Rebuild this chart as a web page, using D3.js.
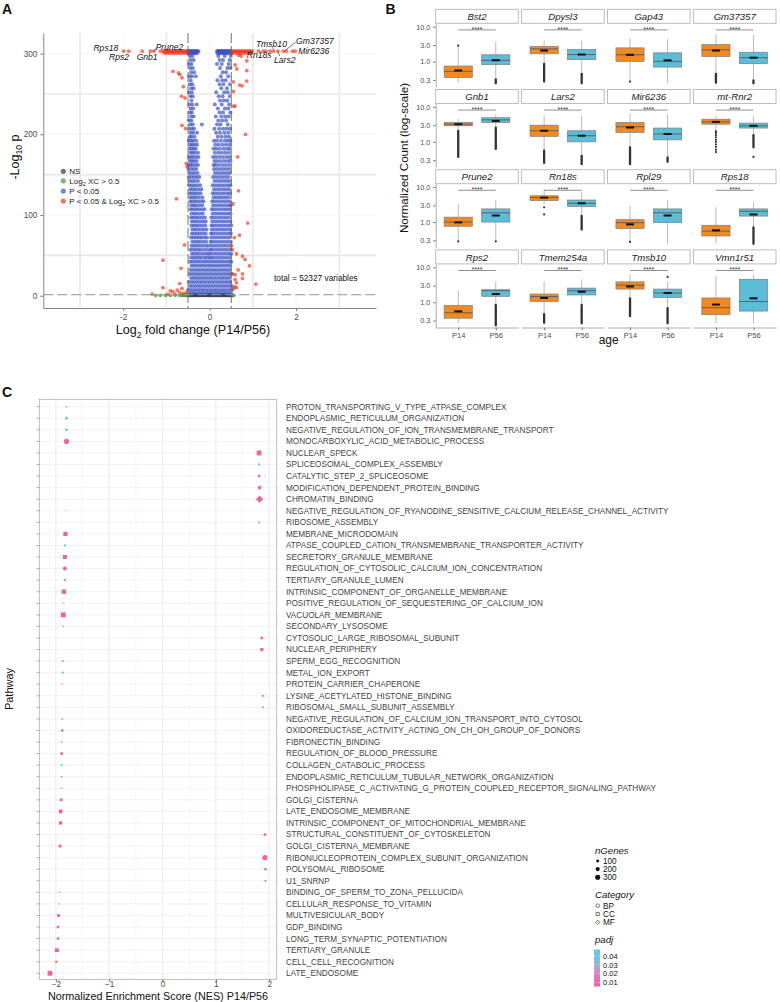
<!DOCTYPE html>
<html><head><meta charset="utf-8">
<script src="https://cdn.jsdelivr.net/npm/d3@7"></script>
<style>body{margin:0;background:#fff} svg{display:block} text{font-family:"Liberation Sans",Arial,sans-serif}</style>
</head><body><svg id="c" width="780" height="1002"></svg>
<script>
// ================= DATA =================
// ---- Panel A: volcano (x = log2FC in hundredths, grouped by -log10 p rows) ----
const volcanoNS = [[1.0,"-53 -49 -45 -41 -37 -33 -29 -25 -21 -17 -13 -9 -5 -1 3 7 11 15 19 23 27 31 35 39 43 47 51"],
 [0.4,"-55 -51 -47 -43 -39 -35 -31 -27 -23 -19 -15 -11 -7 -3 1 5 9 13 17 21 25 29 33 37 41 45 49 53"]];
const volcanoGreen = [[0.5,"-125 -114 -102 -91 -80 -70 -64 -60 -57 -54 -51 52 56"],[0.9,"-62 -58 -55"]];
const volcanoBlueCap = [[303,"-50 -48 -46 -44 -42 -40 -38 -36 -34 -32 -30 -28 -26 17 19 21 23 25 27 29 31 33 35 37 39 41 43 45 47 49"],
 [300.5,"-49 -45 -41 -37 -33 -29 18 22 26 30 34 38 42 46 50"]];
const volcanoBlueUpper = [
 [297,"-46 -40 20 35 49"],[292,"-44 -37 23 31 46"],[287,"-48 -42 17 28 44"],
 [282,"-45 -39 24 41 48"],[277,"-43 -36 30 38"],[272,"-47 -41 -32 26 43"],
 [267,"-44 18 29 37"],[262,"-46 -40 23 32 47"],[257,"-43 -37 27 40"],
 [252,"-48 -41 15 34 42"],[247,"-45 -39 21 30 47"],[242,"-42 24 33 41"],
 [237,"-47 -40 -30 12 28 45"],[232,"-44 -38 19 35 43"],[227,"-46 -41 23 31 48"],
 [222,"-43 -37 14 27 36 44"],[217,"-48 -42 20 29 38"],[212,"-45 -39 -18 17 25 42"],
 [207,"-47 -41 -36 11 22 31 39 47"],[202,"-44 -38 -29 15 24 34 43"],[197,"-46 -42 -35 19 28 37 45"],
 [192,"-48 -43 -38 -31 10 17 26 35 42 48"],[187,"-45 -40 -35 -29 13 21 30 38 46"],
 [182,"-47 -42 -37 -32 9 16 24 33 41 47"],[177,"-44 -39 -34 -27 12 20 28 36 44"],
 [172,"-48 -43 -38 -32 -26 8 15 23 31 39 46"],[167,"-46 -41 -36 -30 11 18 26 34 42 48"],
 [162,"-49 -44 -39 -33 -27 9 14 21 29 37 45"]];
const volcanoBlueDense = [
 [157,"-49 -43 -37 -31 10 17 24 31 38 45"],[152,"-47 -41 -35 -28 12 19 26 33 40 47"],
 [147,"-48 -42 -36 -30 -24 8 15 22 29 36 43"],[142,"-46 -40 -34 -27 11 18 25 32 39 46"],
 [137,"-47 -41 -35 -29 -22 7 14 21 28 35 42 48"],[132,"-45 -39 -33 -26 -19 10 17 24 31 38 45"],
 [127,"-46 -40 -34 -28 -21 7 13 20 27 34 41 47"],[122,"-44 -38 -32 -25 -17 9 16 23 30 37 44"],
 [117,"-45 -39 -33 -27 -20 -14 6 12 19 26 33 40 47"],[112,"-43 -37 -31 -24 -17 8 15 22 29 36 43 49"],
 [107,"-44 -38 -32 -26 -19 -12 5 11 18 25 32 39 46"],[102,"-42 -36 -30 -23 -16 7 14 21 28 35 42 48"],
 [97,"-43 -37 -31 -25 -18 -11 4 10 17 24 31 38 45"],[92,"-41 -35 -29 -22 -15 -9 6 13 20 27 34 41 48"],
 [87,"-42 -36 -30 -24 -17 -10 4 9 16 23 30 37 44 50"],[82,"-40 -34 -28 -21 -14 -7 5 12 19 26 33 40 47"],
 [77,"-41 -35 -29 -23 -16 -9 3 8 15 22 29 36 43 49"],[72,"-43 -37 -31 -25 -19 -12 -6 4 11 18 25 32 39 46"],
 [67,"-40 -34 -28 -22 -15 -8 2 7 14 21 28 35 42 49"],[62,"-42 -36 -30 -24 -17 -10 -4 3 10 17 24 31 38 45"],
 [57,"-44 -38 -32 -26 -20 -13 -6 1 6 13 20 27 34 41 48"],[52,"-41 -35 -29 -23 -16 -9 -3 2 9 16 23 30 37 44 50"],
 [47,"-43 -37 -31 -25 -19 -12 -6 0 5 11 18 25 32 39 46"],[42,"-45 -39 -33 -27 -21 -15 -9 -3 3 9 15 21 27 33 39 45 50"],
 [37,"-42 -36 -30 -24 -18 -12 -6 0 6 12 18 24 30 36 42 48"],[32,"-44 -38 -32 -26 -20 -14 -8 -2 4 10 16 22 28 34 40 46"],
 [27,"-46 -40 -34 -28 -22 -16 -10 -4 2 8 14 20 26 32 38 44 50"],[22,"-43 -37 -31 -25 -19 -13 -7 -1 5 11 17 23 29 35 41 47"],
 [17,"-48 -42 -36 -30 -24 -18 -12 -6 0 6 12 18 24 30 36 42 48"],[12,"-45 -39 -33 -27 -21 -15 -9 -3 3 9 15 21 27 33 39 45 51"],
 [7,"-50 -44 -38 -32 -26 -20 -14 -8 -2 4 10 16 22 28 34 40 46 52"],[3,"-47 -41 -35 -29 -23 -17 -11 -5 1 7 13 19 25 31 37 43 49"]];
const volcanoRedCap = [
 [303,"-199 -187 -156 -137 -129 -114 -107 -104 -101 -98 -95 -92 -89 -86 -83 -80 -77 -74 -71 -68 -65 -62 -59 -56 -53 -51 51 54 57 60 63 66 69 72 75 78 81 84 87 90 93 96 99 113 124 130 140 148 158 171 178 192 198"],
 [300.5,"-105 -99 -93 -87 -81 -75 -69 -63 -57 -52 53 59 65 71 77 83 89 95"]];
// scattered significant points [log2FC, -log10 p]
const volcanoRed = [[-0.85,278],[-0.72,276],[-0.69,274],[-0.64,270],[-0.61,259],[-0.65,247],[-0.57,245],[-0.64,211],[-0.56,207],
 [-0.54,164],[-0.52,160],[-0.77,120],[-0.58,63],[-1.08,44],[-0.66,34],[-0.69,15],[-1.08,10],[-0.91,6],[-0.85,5],[-0.75,7],
 [-0.64,9],[-0.69,4],[-1.33,2],[-0.97,1.8],[-0.80,2],[-0.53,4.5],[-0.60,3],
 [0.59,286],[0.63,281],[0.86,279],[0.67,298],[0.73,297],[0.86,291],[0.75,260],[0.86,266],[0.55,265],[0.69,261],[0.55,253],
 [0.55,235],[0.59,235],[0.83,200],[0.65,172],[0.67,130],[0.54,114],[0.88,90],[0.69,75],[0.57,72],[0.51,62],[0.53,57],
 [0.62,52],[0.76,49],[0.82,45],[0.92,37],[0.66,32],[0.53,27],[0.76,27],[0.59,26],[0.76,21.5],[0.59,20],[1.07,14.5],
 [0.62,16],[0.55,9],[0.62,10],[0.58,11]];
const volcanoTicksX = [-2,0,2];
const volcanoTicksY = [0,100,200,300];

// ---- Panel B: boxplots ----
const genes = ["Bst2","Dpysl3","Gap43","Gm37357","Gnb1","Lars2","Mir6236","mt-Rnr2","Prune2","Rn18s","Rpl29","Rps18","Rps2","Tmem254a","Tmsb10","Vmn1r51"];
const ages = ["P14","P56"];
// [lower whisker, q1, median, q3, upper whisker, mean]
const statsP14 = [[0.25,0.354,0.53,0.75,2.88,0.56],[0.88,1.68,2.32,2.75,4.0,2.08],[0.28,1.02,1.57,2.48,4.7,1.57],[0.46,1.41,2.18,3.07,6.1,2.08],
 [2.08,2.88,3.2,3.57,4.6,3.2],[0.57,1.44,2.08,3.0,5.8,2.08],[0.7,1.87,2.7,3.57,6.5,2.58],[2.08,3.2,3.73,4.45,5.5,3.73],
 [0.30,0.76,1.0,1.38,3.3,0.98],[3.3,4.1,5.06,5.65,8.7,5.0],[0.27,0.65,0.96,1.17,2.95,0.86],[0.25,0.40,0.55,0.81,2.65,0.58],
 [0.25,0.35,0.50,0.81,2.14,0.55],[0.47,1.05,1.45,1.72,3.9,1.33],[1.3,2.38,3.09,3.83,6.3,2.83],[0.25,0.44,0.70,1.33,5.65,0.86]];
const statsP56 = [[0.32,0.82,1.09,1.57,3.7,1.1],[0.46,1.14,1.6,2.22,4.0,1.6],[0.24,0.70,1.02,1.79,4.4,1.09],[0.30,0.88,1.3,1.86,5.8,1.3],
 [2.58,3.57,4.25,4.9,6.1,3.98],[0.41,1.0,1.5,2.08,5.5,1.5],[0.37,1.14,1.68,2.48,6.1,1.68],[1.6,2.48,2.88,3.43,5.3,2.88],
 [0.30,1.0,1.84,2.38,4.3,1.54],[1.54,2.77,3.44,4.27,7.5,3.44],[0.24,0.96,1.84,2.38,4.1,1.54],[0.72,1.48,2.04,2.38,3.66,1.65],
 [0.86,1.48,2.14,2.28,3.9,1.72],[0.86,1.62,2.14,2.54,4.55,2.0],[0.70,1.38,1.84,2.38,3.9,1.84],[0.25,0.56,1.05,4.55,6.0,1.3]];
// dense runs of outliers [low, high]
const outlierRunsP14 = [null,[0.27,0.86],null,[0.25,0.45],[0.37,2.05],[0.25,0.56],[0.23,0.69],null,null,null,null,null,null,[0.26,0.46],[0.40,1.28],null];
const outlierRunsP56 = [[0.24,0.31],[0.24,0.45],null,[0.24,0.29],[0.63,2.55],[0.23,0.40],[0.27,0.36],[0.70,1.55],null,[0.61,1.5],null,[0.24,0.70],[0.22,0.84],[0.25,0.84],[0.25,0.68],null];
const outlierPtsP14 = [[2.88],[],[0.27],[],[],[],[],[0.51,0.6,0.72,0.85,1.0,1.15,1.35,1.55,1.8,2.0],[0.28],[2.65,1.65],[0.27],[],[],[],[],[]];
const outlierPtsP56 = [[],[],[],[],[],[],[],[0.37],[0.28],[],[],[],[],[],[5.3],[]];
const boxTicks = [0.3,1,3,10];
const sigLevel = 8.1;

// ---- Panel C: GSEA dot plot ----
const pathways = ["PROTON_TRANSPORTING_V_TYPE_ATPASE_COMPLEX","ENDOPLASMIC_RETICULUM_ORGANIZATION","NEGATIVE_REGULATION_OF_ION_TRANSMEMBRANE_TRANSPORT",
 "MONOCARBOXYLIC_ACID_METABOLIC_PROCESS","NUCLEAR_SPECK","SPLICEOSOMAL_COMPLEX_ASSEMBLY","CATALYTIC_STEP_2_SPLICEOSOME",
 "MODIFICATION_DEPENDENT_PROTEIN_BINDING","CHROMATIN_BINDING","NEGATIVE_REGULATION_OF_RYANODINE_SENSITIVE_CALCIUM_RELEASE_CHANNEL_ACTIVITY",
 "RIBOSOME_ASSEMBLY","MEMBRANE_MICRODOMAIN","ATPASE_COUPLED_CATION_TRANSMEMBRANE_TRANSPORTER_ACTIVITY","SECRETORY_GRANULE_MEMBRANE",
 "REGULATION_OF_CYTOSOLIC_CALCIUM_ION_CONCENTRATION","TERTIARY_GRANULE_LUMEN","INTRINSIC_COMPONENT_OF_ORGANELLE_MEMBRANE",
 "POSITIVE_REGULATION_OF_SEQUESTERING_OF_CALCIUM_ION","VACUOLAR_MEMBRANE","SECONDARY_LYSOSOME","CYTOSOLIC_LARGE_RIBOSOMAL_SUBUNIT",
 "NUCLEAR_PERIPHERY","SPERM_EGG_RECOGNITION","METAL_ION_EXPORT","PROTEIN_CARRIER_CHAPERONE","LYSINE_ACETYLATED_HISTONE_BINDING",
 "RIBOSOMAL_SMALL_SUBUNIT_ASSEMBLY","NEGATIVE_REGULATION_OF_CALCIUM_ION_TRANSPORT_INTO_CYTOSOL","OXIDOREDUCTASE_ACTIVITY_ACTING_ON_CH_OH_GROUP_OF_DONORS",
 "FIBRONECTIN_BINDING","REGULATION_OF_BLOOD_PRESSURE","COLLAGEN_CATABOLIC_PROCESS","ENDOPLASMIC_RETICULUM_TUBULAR_NETWORK_ORGANIZATION",
 "PHOSPHOLIPASE_C_ACTIVATING_G_PROTEIN_COUPLED_RECEPTOR_SIGNALING_PATHWAY","GOLGI_CISTERNA","LATE_ENDOSOME_MEMBRANE",
 "INTRINSIC_COMPONENT_OF_MITOCHONDRIAL_MEMBRANE","STRUCTURAL_CONSTITUENT_OF_CYTOSKELETON","GOLGI_CISTERNA_MEMBRANE",
 "RIBONUCLEOPROTEIN_COMPLEX_SUBUNIT_ORGANIZATION","POLYSOMAL_RIBOSOME","U1_SNRNP","BINDING_OF_SPERM_TO_ZONA_PELLUCIDA",
 "CELLULAR_RESPONSE_TO_VITAMIN","MULTIVESICULAR_BODY","GDP_BINDING","LONG_TERM_SYNAPTIC_POTENTIATION","TERTIARY_GRANULE",
 "CELL_CELL_RECOGNITION","LATE_ENDOSOME"];
const nes = [-1.80,-1.80,-1.80,-1.80,1.81,1.81,1.81,1.82,1.82,-1.81,1.81,-1.82,-1.83,-1.83,-1.83,-1.83,-1.85,-1.85,-1.86,-1.86,
 1.86,1.86,-1.87,-1.87,-1.88,1.88,1.88,-1.88,-1.88,-1.89,-1.89,-1.89,-1.89,-1.89,-1.90,-1.91,-1.91,1.92,-1.92,1.92,1.93,1.93,
 -1.93,-1.94,-1.95,-1.96,-1.96,-1.98,-1.99,-2.11];
const category = ["CC","BP","BP","BP","CC","BP","CC","MF","MF","BP","BP","CC","MF","CC","BP","CC","CC","BP","CC","CC",
 "CC","CC","BP","BP","MF","MF","BP","BP","MF","MF","BP","BP","BP","BP","CC","CC","CC","MF","CC","BP","CC","CC",
 "BP","BP","CC","MF","BP","CC","BP","CC"];
const nGenes = [40,90,90,300,330,60,90,170,420,15,60,250,70,230,180,70,270,20,340,25,
 100,140,60,60,25,60,60,30,100,30,110,50,40,35,120,200,150,110,110,320,80,50,
 30,30,110,100,90,200,80,320];
const padj = [0.025,0.04,0.04,0.008,0.008,0.04,0.012,0.012,0.008,0.04,0.028,0.008,0.04,0.008,0.01,0.028,0.008,0.015,0.008,0.015,
 0.012,0.01,0.04,0.04,0.02,0.014,0.04,0.015,0.012,0.038,0.012,0.04,0.04,0.04,0.012,0.008,0.01,0.013,0.01,0.008,0.012,0.015,
 0.03,0.03,0.01,0.012,0.012,0.008,0.012,0.008];
const nesTicks = [-2,-1,0,1,2];
const sizeLegend = [100,200,300];
const categories = ["BP","CC","MF"];
const padjTicks = [0.04,0.03,0.02,0.01];

// ================= DRAW =================
const svg = d3.select("#c");
const AX = "#4d4d4d";
const FF = "Liberation Sans, Arial, sans-serif";
const rowsToPts = rows => rows.flatMap(([y,s]) => s.trim().split(/\s+/).map(v => ({x:+v/100, y})));

// ---------- Panel A ----------
const A = svg.append("g");
const xA = d3.scaleLinear().domain([-3.85,3.85]).range([43.3,376]);
const yA = d3.scaleLinear().domain([-15.2,325.5]).range([308,33]);
d3.range(-3,4).forEach(v => {
  const odd = Math.abs(v)%2===1;
  A.append("line").attr("x1",xA(v)).attr("x2",xA(v)).attr("y1",33).attr("y2",308)
   .attr("stroke",odd?"#e8e8e8":"#f0f0f0").attr("stroke-width",odd?1.6:0.7);
});
d3.range(0,301,50).forEach(v => {
  const odd = v%100===50;
  A.append("line").attr("x1",43.3).attr("x2",376).attr("y1",yA(v)).attr("y2",yA(v))
   .attr("stroke",odd?"#e8e8e8":"#f0f0f0").attr("stroke-width",odd?1.6:0.7);
});
function dotsA(pts, fill, op, r){
  A.append("g").selectAll("circle").data(pts).join("circle")
   .attr("cx",d=>xA(d.x)).attr("cy",d=>yA(d.y)).attr("r",r).attr("fill",fill).attr("fill-opacity",op);
}
dotsA(rowsToPts(volcanoNS), "#3a3a3a", 0.7, 1.9);
dotsA(rowsToPts(volcanoGreen), "#3e9e3e", 0.75, 1.9);
dotsA(rowsToPts(volcanoBlueUpper).concat(rowsToPts(volcanoBlueDense), rowsToPts(volcanoBlueCap)), "#3a52c2", 0.7, 2.0);
dotsA(rowsToPts(volcanoRedCap).concat(volcanoRed.map(([x,y])=>({x,y}))), "#ee3a1e", 0.68, 1.9);
[-0.5,0.5].forEach(v => A.append("line").attr("x1",xA(v)).attr("x2",xA(v)).attr("y1",33).attr("y2",308)
  .attr("stroke","#606060").attr("stroke-width",0.9).attr("stroke-dasharray","10,3"));
A.append("line").attr("x1",43.3).attr("x2",376).attr("y1",yA(-Math.log10(0.05))).attr("y2",yA(-Math.log10(0.05)))
  .attr("stroke","#9a9a9a").attr("stroke-width",1).attr("stroke-dasharray","10,4");
const axA = A.append("g").attr("transform","translate(43.3,0)").call(d3.axisLeft(yA).tickValues(volcanoTicksY).tickSize(3).tickSizeOuter(0));
const bxA = A.append("g").attr("transform","translate(0,308)").call(d3.axisBottom(xA).tickValues(volcanoTicksX).tickSize(3).tickSizeOuter(0).tickFormat(d=>d));
[axA,bxA].forEach(g => { g.select(".domain").attr("stroke","#7a7a7a").attr("stroke-width",0.9);
  g.selectAll(".tick line").attr("stroke","#7a7a7a");
  g.selectAll("text").attr("font-size",8.2).attr("fill",AX).attr("font-family",FF); });
const geneLabels = [["Rps18",-2.69,302.6],["Rps2",-2.33,291.5],["Gnb1",-1.69,291.5],["Prune2",-1.25,304],["Tmsb10",1.07,307.6],
  ["Gm37357",2.0,311.5],["Rn18s",0.86,294.5],["Lars2",1.49,288.5],["Mir6236",2.05,299.5]];
A.append("g").selectAll("text").data(geneLabels).join("text").attr("x",d=>xA(d[1])).attr("y",d=>yA(d[2]))
  .attr("font-size",8.6).attr("font-style","italic").attr("fill","#111").text(d=>d[0]);
const leaders = [[[-1.30,303],[-1.23,307]],[[1.75,304],[1.99,314]],[[1.58,302],[1.62,297]],[[1.48,305],[1.45,308]]];
leaders.forEach(([a,b]) => A.append("line").attr("x1",xA(a[0])).attr("y1",yA(a[1])).attr("x2",xA(b[0])).attr("y2",yA(b[1]))
  .attr("stroke","#222").attr("stroke-width",0.6));
const legA = [["NS","#3a3a3a"],["Log2 XC > 0.5","#3e9e3e"],["P < 0.05","#3a52c2"],["P < 0.05 & Log2 XC > 0.5","#ee3a1e"]];
const legY = [171.3,180.8,191.1,201];
legA.forEach((d,i) => {
  A.append("circle").attr("cx",63.3).attr("cy",legY[i]).attr("r",2.6).attr("fill",d[1]).attr("fill-opacity",0.7);
  const t = A.append("text").attr("x",69.3).attr("y",legY[i]+2.9).attr("font-size",8).attr("fill","#222");
  const parts = d[0].split("Log2");
  if (parts.length===1) t.text(d[0]);
  else { t.append("tspan").text(parts[0]+"Log"); t.append("tspan").attr("font-size",5.6).attr("dy",2).text("2");
         t.append("tspan").attr("dy",-2).text(parts[1]); }
});
A.append("text").attr("x",274).attr("y",280.6).attr("font-size",8.3).attr("fill","#111").text("total = 52327 variables");
const xtA = A.append("text").attr("x",193).attr("y",334).attr("text-anchor","middle").attr("font-size",12.6).attr("fill","#111");
xtA.append("tspan").text("Log"); xtA.append("tspan").attr("font-size",8.5).attr("dy",3.5).text("2");
xtA.append("tspan").attr("dy",-3.5).text(" fold change (P14/P56)");
const ytA = A.append("text").attr("transform","translate(18.5,157) rotate(-90)").attr("text-anchor","middle").attr("font-size",12.6).attr("fill","#111");
ytA.append("tspan").text("-Log"); ytA.append("tspan").attr("font-size",8.5).attr("dy",3.5).text("10");
ytA.append("tspan").attr("dy",-3.5).text(" p");

// ---------- Panel B ----------
const B = svg.append("g");
const colX = c => 435.7 + c*85.9, panelW = 82.6;
const rowTop = r => 9.3 + r*80.2, stripH = 14, panelH = 63.6;
const fillAge = {P14:"#f28a22", P56:"#5bbdd8"};
genes.forEach((g,i) => {
  const r = Math.floor(i/4), c = i%4;
  const x0 = colX(c), top = rowTop(r)+stripH, bot = top+panelH;
  const y = d3.scaleLog().domain([0.19,12.5]).range([bot,top]);
  const x = d3.scalePoint().domain(ages).range([x0,x0+panelW]).padding(0.6);
  const bw = x.step()*0.75;
  B.append("rect").attr("x",x0).attr("y",rowTop(r)).attr("width",panelW).attr("height",stripH)
   .attr("fill","#fff").attr("stroke","#b5b5b5").attr("stroke-width",0.9);
  B.append("text").attr("x",x0+panelW/2).attr("y",rowTop(r)+10.6).attr("text-anchor","middle")
   .attr("font-size",9.6).attr("font-style","italic").attr("fill","#1a1a1a").text(g);
  const boxes = [["P14",statsP14[i],outlierRunsP14[i],outlierPtsP14[i]],["P56",statsP56[i],outlierRunsP56[i],outlierPtsP56[i]]];
  boxes.forEach(([age,s,run,pts]) => {
    const cx = x(age);
    B.append("line").attr("x1",cx).attr("x2",cx).attr("y1",y(s[0])).attr("y2",y(s[4])).attr("stroke","#a8a8a8").attr("stroke-width",0.8);
    if (run) B.append("line").attr("x1",cx).attr("x2",cx).attr("y1",y(run[0])).attr("y2",y(run[1]))
      .attr("stroke","#333").attr("stroke-width",2.3).attr("stroke-linecap","round");
    pts.forEach(p => B.append("circle").attr("cx",cx).attr("cy",y(p)).attr("r",1.1).attr("fill","#333"));
    B.append("rect").attr("x",cx-bw/2).attr("y",y(s[3])).attr("width",bw).attr("height",y(s[1])-y(s[3]))
     .attr("fill",fillAge[age]).attr("stroke","#7d7d7d").attr("stroke-width",0.7);
    B.append("line").attr("x1",cx-bw/2).attr("x2",cx+bw/2).attr("y1",y(s[2])).attr("y2",y(s[2])).attr("stroke","#5a5a5a").attr("stroke-width",0.9);
    B.append("rect").attr("x",cx-4).attr("y",y(s[5])-1).attr("width",8).attr("height",2).attr("fill","#111");
  });
  const ly = y(sigLevel);
  B.append("line").attr("x1",x("P14")).attr("x2",x("P56")).attr("y1",ly).attr("y2",ly).attr("stroke","#444").attr("stroke-width",0.6);
  B.append("text").attr("x",(x("P14")+x("P56"))/2).attr("y",ly+1.8).attr("text-anchor","middle").attr("font-size",7).attr("fill","#333").text("****");
  if (c===0) {
    const ay = B.append("g").attr("transform",`translate(${x0},0)`).call(d3.axisLeft(y).tickValues(boxTicks).tickFormat(d3.format(".1f")).tickSize(2.5).tickSizeOuter(0));
    ay.select(".domain").attr("stroke","#999").attr("stroke-width",0.8);
    ay.selectAll(".tick line").attr("stroke","#777");
    ay.selectAll("text").attr("font-size",7.2).attr("fill",AX).attr("font-family",FF);
  }
  if (r===3) {
    const axb = B.append("g").attr("transform",`translate(0,${bot})`).call(d3.axisBottom(x).tickSize(2.5).tickSizeOuter(0));
    axb.select(".domain").attr("stroke","#999").attr("stroke-width",0.8);
    axb.selectAll(".tick line").attr("stroke","#777");
    axb.selectAll("text").attr("font-size",7.5).attr("fill",AX).attr("font-family",FF);
  }
});
B.append("text").attr("x",608.7).attr("y",344).attr("text-anchor","middle").attr("font-size",12).attr("fill","#111").text("age");
B.append("text").attr("transform","translate(407.5,158) rotate(-90)").attr("text-anchor","middle").attr("font-size",11.6).attr("fill","#111").text("Normalized Count (log-scale)");

// ---------- Panel C ----------
const C = svg.append("g");
const L = 39.3, R = 276.7, T = 399.3, Bt = 979.3;
const xC = d3.scaleLinear().domain([-2.31,2.14]).range([L,R]);
const yC = d3.scalePoint().domain(pathways).range([406.7,973.3]);
d3.range(-2,2.01,0.5).forEach(v => C.append("line").attr("x1",xC(v)).attr("x2",xC(v)).attr("y1",T).attr("y2",Bt)
  .attr("stroke",Number.isInteger(v)?"#e6e6e6":"#f1f1f1").attr("stroke-width",Number.isInteger(v)?0.8:0.6));
pathways.forEach(p => C.append("line").attr("x1",L).attr("x2",R).attr("y1",yC(p)).attr("y2",yC(p)).attr("stroke","#ececec").attr("stroke-width",0.7));
C.append("rect").attr("x",L).attr("y",T).attr("width",R-L).attr("height",Bt-T).attr("fill","none").attr("stroke","#adadad").attr("stroke-width",0.8);
const color = d3.scaleLinear().domain([0.01,0.025,0.04]).range(["#f4619f","#c59bd0","#5fcbe0"]).clamp(true);
const rad = d3.scaleSqrt().domain([0,400]).range([0,2.95]);
function shapePath(cat, r){
  if (cat==="BP") return d3.symbol(d3.symbolCircle, Math.PI*r*r)();
  if (cat==="CC") return d3.symbol(d3.symbolSquare, (1.8*r)*(1.8*r))();
  return d3.symbol(d3.symbolSquare, (1.7*r)*(1.7*r))();
}
pathways.forEach((p,i) => {
  C.append("path").attr("d",shapePath(category[i], rad(nGenes[i])))
   .attr("transform",`translate(${xC(nes[i])},${yC(p)})` + (category[i]==="MF"?" rotate(45)":""))
   .attr("fill",color(padj[i]));
  C.append("line").attr("x1",L-2.7).attr("x2",L).attr("y1",yC(p)).attr("y2",yC(p)).attr("stroke","#777").attr("stroke-width",0.6);
  C.append("text").attr("x",286).attr("y",yC(p)+2.9).attr("font-size",8.2).attr("fill","#444").text(p);
});
const axC = C.append("g").attr("transform",`translate(0,${Bt})`).call(d3.axisBottom(xC).tickValues(nesTicks).tickSize(2.7).tickSizeOuter(0).tickFormat(d=>d<0?"\u2212"+(-d):d));
axC.select(".domain").remove();
axC.selectAll(".tick line").attr("stroke","#777");
axC.selectAll("text").attr("font-size",8.2).attr("fill",AX).attr("font-family",FF).attr("y",2.2).attr("dy","0.71em");
C.append("text").attr("x",158).attr("y",999.6).attr("text-anchor","middle").attr("font-size",10.8).attr("fill","#111").text("Normalized Enrichment Score (NES) P14/P56");
C.append("text").attr("transform","translate(13,689) rotate(-90)").attr("text-anchor","middle").attr("font-size",11).attr("fill","#111").text("Pathway");
// legend C
const lx = 597.7;
C.append("text").attr("x",595).attr("y",853.5).attr("font-size",9.6).attr("font-style","italic").attr("fill","#111").text("nGenes");
sizeLegend.forEach((n,i) => {
  const yy = 861 + i*8.1;
  C.append("circle").attr("cx",lx).attr("cy",yy).attr("r",rad(n)).attr("fill","#111");
  C.append("text").attr("x",603).attr("y",yy+3).attr("font-size",8.2).attr("fill","#111").text(n);
});
C.append("text").attr("x",595).attr("y",898).attr("font-size",9.6).attr("font-style","italic").attr("fill","#111").text("Category");
categories.forEach((cat,i) => {
  const yy = 905.7 + i*8.3;
  C.append("path").attr("d",shapePath(cat,1.8)).attr("transform",`translate(${lx},${yy})`+(cat==="MF"?" rotate(45)":""))
   .attr("fill","none").attr("stroke","#222").attr("stroke-width",0.6);
  C.append("text").attr("x",603).attr("y",yy+3).attr("font-size",8.2).attr("fill","#111").text(cat);
});
C.append("text").attr("x",595).attr("y",943).attr("font-size",9.6).attr("font-style","italic").attr("fill","#111").text("padj");
const yP = d3.scaleLinear().domain([0.01,0.04]).range([982.5,956]);
const defs = svg.append("defs");
const grad = defs.append("linearGradient").attr("id","pg").attr("x1",0).attr("x2",0).attr("y1",1).attr("y2",0);
[0,0.25,0.5,0.75,1].forEach(t => grad.append("stop").attr("offset",t).attr("stop-color",color(yP.invert(986.5 - t*37))));
C.append("rect").attr("x",594).attr("y",949.5).attr("width",6).attr("height",37).attr("fill","url(#pg)");
padjTicks.forEach(v => {
  C.append("line").attr("x1",594).attr("x2",595.3).attr("y1",yP(v)).attr("y2",yP(v)).attr("stroke","#fff").attr("stroke-width",0.6);
  C.append("line").attr("x1",598.7).attr("x2",600).attr("y1",yP(v)).attr("y2",yP(v)).attr("stroke","#fff").attr("stroke-width",0.6);
  C.append("text").attr("x",603).attr("y",yP(v)+2.7).attr("font-size",7.5).attr("fill","#111").text(v.toFixed(2));
});

// panel letters
[["A",2,14],["B",385.5,14],["C",2,397]].forEach(([t,x,y]) => svg.append("text").attr("x",x).attr("y",y)
  .attr("font-size",14).attr("font-weight","bold").attr("fill","#111").text(t));
</script></body></html>
